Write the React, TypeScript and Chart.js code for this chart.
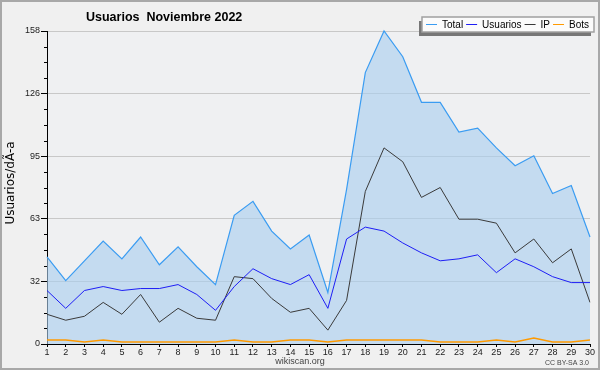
import React, { useEffect, useRef } from "react";
import { Chart, registerables } from "chart.js";

Chart.register(...registerables);

const days = Array.from({ length: 30 }, (_, i) => String(i + 1));

const total = [44, 32, 42, 52, 43, 54, 40, 49, 39, 30, 65, 72, 57, 48, 55, 26, 78, 137, 158, 145, 122, 122, 107, 109, 99, 90, 95, 76, 80, 54];
const usuarios = [27, 18, 27, 29, 27, 28, 28, 30, 25, 17, 29, 38, 33, 30, 35, 18, 53, 59, 57, 51, 46, 42, 43, 45, 36, 43, 39, 34, 31, 31];
const ip = [15, 12, 14, 21, 15, 25, 11, 18, 13, 12, 34, 33, 23, 16, 18, 7, 22, 77, 99, 92, 74, 79, 63, 63, 61, 46, 53, 41, 48, 21];
const bots = [2, 2, 1, 2, 1, 1, 1, 1, 1, 1, 2, 1, 1, 2, 2, 1, 2, 2, 2, 2, 2, 1, 1, 1, 2, 1, 3, 1, 1, 2];

const yMax = 158;
const yDivisions = 20;

const titleText = "Usuarios  Noviembre 2022";
const yTitle = "Usuarios/dÃ-a";
const siteText = "wikiscan.org";
const licenseText = "CC BY-SA 3.0";

export default function App() {
  const ref = useRef<HTMLCanvasElement | null>(null);

  useEffect(() => {
    document.body.style.margin = "0";
    const canvas = ref.current!;
    const decor = {
      id: "decor",
      beforeDraw(chart: any) {
        const { ctx, chartArea } = chart;
        ctx.save();
        ctx.fillStyle = "#f0f0f0";
        ctx.fillRect(0, 0, chart.width, chart.height);
        ctx.fillStyle = "#eff0f2";
        ctx.fillRect(chartArea.left, chartArea.top, chartArea.right - chartArea.left, chartArea.bottom - chartArea.top);
        ctx.restore();
      },
      afterDraw(chart: any) {
        const { ctx } = chart;
        const y = chart.scales.y;
        ctx.save();
        // minor ticks
        ctx.strokeStyle = "#000";
        ctx.lineWidth = 1;
        for (let i = 0; i <= yDivisions; i++) {
          if (i % 4 === 0) continue;
          const py = Math.round(y.getPixelForValue((i * yMax) / yDivisions)) + 0.5;
          ctx.beginPath();
          ctx.moveTo(y.right - 3, py);
          ctx.lineTo(y.right, py);
          ctx.stroke();
        }
        // border
        ctx.strokeStyle = "#a8a8a8";
        ctx.lineWidth = 2;
        ctx.strokeRect(1, 1, chart.width - 2, chart.height - 2);
        // title
        ctx.fillStyle = "#000";
        ctx.font = 'bold 12.5px "Liberation Sans"';
        ctx.textAlign = "left";
        ctx.textBaseline = "alphabetic";
        ctx.fillText(titleText, 86, 21);
        // y title
        ctx.save();
        ctx.translate(14, 183);
        ctx.rotate(-Math.PI / 2);
        ctx.font = '12px "DejaVu Sans"';
        ctx.textAlign = "center";
        ctx.textBaseline = "alphabetic";
        ctx.fillText(yTitle, 0, 0);
        ctx.restore();
        // footer
        ctx.fillStyle = "#444";
        ctx.font = '9px "Liberation Sans"';
        ctx.textAlign = "center";
        ctx.textBaseline = "middle";
        ctx.fillText(siteText, 300, 362);
        ctx.font = '7px "Liberation Sans"';
        ctx.textAlign = "right";
        ctx.fillText(licenseText, 589, 363);
        // legend
        const lx = 422, ly = 17, lw = 172, lh = 15;
        ctx.fillStyle = "#777";
        ctx.fillRect(lx - 3, ly + 4, lw, lh);
        ctx.fillStyle = "#fbfbfb";
        ctx.fillRect(lx, ly, lw, lh);
        ctx.strokeStyle = "#a0a0a0";
        ctx.lineWidth = 1.5;
        ctx.strokeRect(lx, ly, lw, lh);
        ctx.font = '10px "Liberation Sans"';
        ctx.textAlign = "left";
        ctx.textBaseline = "middle";
        let x = 426;
        const cy = 24.5;
        chart.data.datasets.forEach((ds: any) => {
          ctx.strokeStyle = ds.borderColor;
          ctx.lineWidth = 1;
          ctx.beginPath();
          ctx.moveTo(x, cy);
          ctx.lineTo(x + 11, cy);
          ctx.stroke();
          x += 16;
          ctx.fillStyle = "#000";
          ctx.fillText(ds.label, x, cy + 0.5);
          x += ctx.measureText(ds.label).width + 3;
        });
        ctx.restore();
      },
    };

    const chart = new Chart(canvas, {
      type: "line",
      data: {
        labels: days,
        datasets: [
          { label: "Total", data: total, borderColor: "#3a9cf2", backgroundColor: "rgba(169,207,239,0.62)", fill: "origin", borderWidth: 1.2, pointRadius: 0, tension: 0, clip: false as any },
          { label: "Usuarios", data: usuarios, borderColor: "#1e1ef5", borderWidth: 1, pointRadius: 0, tension: 0, fill: false },
          { label: "IP", data: ip, borderColor: "#3a3a3a", borderWidth: 1, pointRadius: 0, tension: 0, fill: false },
          { label: "Bots", data: bots, borderColor: "#ff9a00", borderWidth: 1.5, pointRadius: 0, tension: 0, fill: false },
        ],
      },
      options: {
        responsive: false,
        animation: false,
        events: [],
        layout: { padding: { top: 31, right: 10, left: 0, bottom: 0 } },
        plugins: {
          legend: { display: false },
          title: { display: false },
          tooltip: { enabled: false },
          filler: { drawTime: "beforeDatasetsDraw" },
        } as any,
        scales: {
          x: {
            type: "category",
            offset: false,
            afterFit: (s: any) => { s.height = 26; },
            grid: { drawOnChartArea: false, color: "#000", tickColor: "#000", tickLength: 3 },
            border: { color: "#000", width: 1 },
            ticks: { autoSkip: false, maxRotation: 0, padding: 0, color: "#222", font: { family: "Liberation Sans", size: 9 } },
          },
          y: {
            min: 0,
            max: yMax,
            afterFit: (s: any) => { s.width = 47; },
            afterBuildTicks: (s: any) => {
              s.ticks = Array.from({ length: yDivisions + 1 }, (_, i) => ({ value: (i * yMax) / yDivisions }));
            },
            grid: {
              color: (c: any) => (c.index % 4 === 0 && c.index > 0 ? "#c8c8c8" : "rgba(0,0,0,0)"),
              tickColor: (c: any) => (c.index % 4 === 0 ? "#000" : "rgba(0,0,0,0)"),
              tickLength: 6,
            },
            border: { color: "#000", width: 1 },
            ticks: {
              autoSkip: false,
              padding: 1,
              color: "#222",
              font: { family: "Liberation Sans", size: 9 },
              callback: (v: any, i: number) => (i % 4 === 0 ? String(Math.round(Number(v))) : ""),
            },
          },
        },
      },
      plugins: [decor],
    });
    return () => chart.destroy();
  }, []);

  return <canvas ref={ref} width={600} height={370} style={{ display: "block" }} />;
}
